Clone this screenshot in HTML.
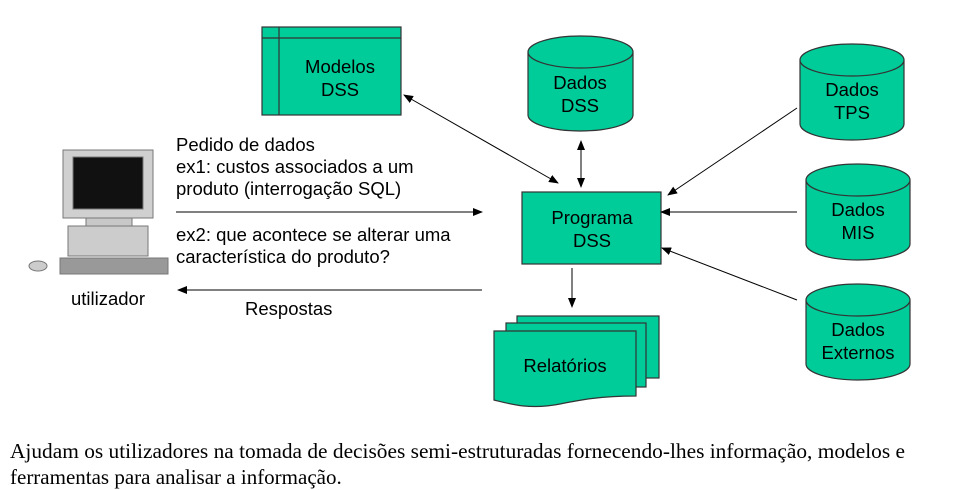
<!DOCTYPE html>
<html><head><meta charset="utf-8"><style>
body{margin:0;background:#fff;width:964px;height:490px;overflow:hidden}
svg{position:absolute;left:0;top:0}
.t{font-family:"Liberation Sans",sans-serif;font-size:18.5px;fill:#000}
.s{font-family:"Liberation Serif",serif;font-size:21px;fill:#000}
</style></head><body>
<svg width="964" height="490" viewBox="0 0 964 490">
<defs><marker id="a" markerWidth="10" markerHeight="8" refX="9" refY="4" orient="auto-start-reverse" markerUnits="userSpaceOnUse"><path d="M0,0 L10,4 L0,8z" fill="#000"/></marker></defs>
<g stroke="#333" stroke-width="1.2" fill="#00cc99">
<rect x="262" y="27" width="139" height="88"/>
<line x1="279" y1="27" x2="279" y2="115"/><line x1="262" y1="38" x2="401" y2="38"/>
<rect x="522" y="192" width="139" height="72"/>
<path d="M528,52 V115 A52.5,16 0 0 0 633,115 V52"/><ellipse cx="580.5" cy="52" rx="52.5" ry="16"/>
<path d="M800,60 V124 A52,16 0 0 0 904,124 V60"/><ellipse cx="852" cy="60" rx="52" ry="16"/>
<path d="M806,180 V244 A52,16 0 0 0 910,244 V180"/><ellipse cx="858" cy="180" rx="52" ry="16"/>
<path d="M806,300 V364 A52,16 0 0 0 910,364 V300"/><ellipse cx="858" cy="300" rx="52" ry="16"/>
<rect x="517" y="316" width="142" height="62"/>
<rect x="506" y="323" width="140" height="64"/>
<path d="M494,331 H636 V396 C600,396 580,400 560,404 C530,410 510,404 494,400 Z"/>
</g>
<g class="t" text-anchor="middle">
<text x="340" y="73">Modelos</text><text x="340" y="96">DSS</text>
<text x="580" y="89">Dados</text><text x="580" y="112">DSS</text>
<text x="852" y="96">Dados</text><text x="852" y="119">TPS</text>
<text x="858" y="216">Dados</text><text x="858" y="239">MIS</text>
<text x="858" y="336">Dados</text><text x="858" y="359">Externos</text>
<text x="592" y="224">Programa</text><text x="592" y="247">DSS</text>
<text x="565" y="372">Relatórios</text>
<text x="108" y="305">utilizador</text>
</g>
<g class="t">
<text x="176" y="151">Pedido de dados</text>
<text x="176" y="173">ex1: custos associados a um</text>
<text x="176" y="195">produto (interrogação SQL)</text>
<text x="176" y="241">ex2: que acontece se alterar uma</text>
<text x="176" y="263">característica do produto?</text>
<text x="245" y="315">Respostas</text>
</g>
<g stroke="#000" stroke-width="1" fill="none">
<line x1="404" y1="95" x2="558" y2="183" marker-start="url(#a)" marker-end="url(#a)"/>
<line x1="581" y1="141" x2="581" y2="187" marker-start="url(#a)" marker-end="url(#a)"/>
<line x1="797" y1="108" x2="668" y2="195" marker-end="url(#a)"/>
<line x1="797" y1="212" x2="661" y2="212" marker-end="url(#a)"/>
<line x1="797" y1="300" x2="662" y2="248" marker-end="url(#a)"/>
<line x1="572" y1="268" x2="572" y2="307" marker-end="url(#a)"/>
<line x1="176" y1="212" x2="482" y2="212" marker-end="url(#a)"/>
<line x1="482" y1="290" x2="178" y2="290" marker-end="url(#a)"/>
</g>
<g stroke="#777" stroke-width="1">
<rect x="63" y="150" width="90" height="68" fill="#d0d0d0"/>
<rect x="73" y="157" width="70" height="52" fill="#111"/>
<rect x="86" y="218" width="46" height="8" fill="#c8c8c8"/>
<rect x="68" y="226" width="80" height="30" fill="#ccc"/>
<rect x="60" y="258" width="108" height="16" fill="#999"/>
<ellipse cx="38" cy="266" rx="9" ry="5" fill="#ccc"/>
</g>
<text class="s" x="10" y="458" textLength="895" lengthAdjust="spacingAndGlyphs">Ajudam os utilizadores na tomada de decisões semi-estruturadas fornecendo-lhes informação, modelos e</text>
<text class="s" x="10" y="484">ferramentas para analisar a informação.</text>
</svg>
</body></html>
